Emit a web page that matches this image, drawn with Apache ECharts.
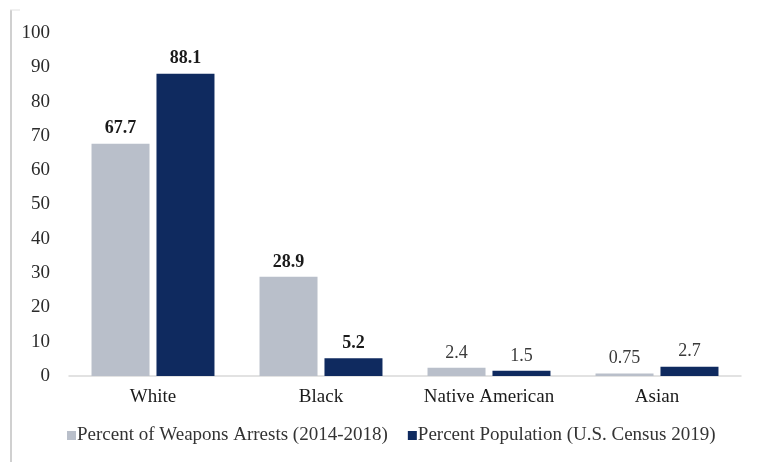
<!DOCTYPE html>
<html>
<head>
<meta charset="utf-8">
<script src="https://cdn.jsdelivr.net/npm/echarts@6/dist/echarts.min.js"></script>
<style>html,body{margin:0;padding:0;background:#fff}#c{width:763px;height:462px}</style>
</head>
<body>
<div id="c"></div>
<script>
const categories = ['White', 'Black', 'Native American', 'Asian'];
const arrests = [67.7, 28.9, 2.4, 0.75];
const population = [88.1, 5.2, 1.5, 2.7];
const arrestsName = 'Percent of Weapons Arrests (2014-2018)';
const populationName = 'Percent Population (U.S. Census 2019)';
const yTicks = { min: 0, max: 100, interval: 10 };

const FONT = '"Liberation Serif", "Times New Roman", serif';
const boldLabel = { fontWeight: 'bold', color: '#1a1a1a' };
const lightLabel = { fontWeight: 'normal', color: '#3a3a3a' };
function withLabels(arr) {
  return arr.map((v, i) => ({ value: v, label: i < 2 ? boldLabel : lightLabel }));
}
const chart = echarts.init(document.getElementById('c'), null, { renderer: 'canvas' });
chart.setOption({
  animation: false,
  textStyle: { fontFamily: FONT },
  graphic: [{
    type: 'line', shape: { x1: 11, y1: 10, x2: 11, y2: 462 },
    style: { stroke: '#d0d0d0', lineWidth: 2 }
  }, {
    type: 'line', shape: { x1: 10, y1: 10, x2: 20, y2: 10 },
    style: { stroke: '#e0e0e0', lineWidth: 1 }
  }],
  grid: { left: 69, right: 22, top: 33, bottom: 86 },
  legend: {
    bottom: 12, left: 62, itemWidth: 9, itemHeight: 9, itemGap: 20,
    icon: 'rect',
    textStyle: { fontFamily: FONT, fontSize: 19, color: '#333', padding: [0, 0, 0, -4] },
    data: [arrestsName, populationName]
  },
  xAxis: {
    type: 'category', data: categories,
    axisLine: { lineStyle: { color: '#d9d9d9', width: 1.5 } },
    axisTick: { show: false },
    axisLabel: { interval: 0, fontFamily: FONT, fontSize: 19, color: '#1a1a1a', margin: 12 }
  },
  yAxis: {
    type: 'value', min: yTicks.min, max: yTicks.max, interval: yTicks.interval,
    axisLine: { show: false }, axisTick: { show: false },
    splitLine: { show: false },
    axisLabel: { fontFamily: FONT, fontSize: 19, color: '#2b2b2b', margin: 19 }
  },
  series: [{
    name: arrestsName, type: 'bar', data: withLabels(arrests),
    barWidth: 58, barGap: '12%',
    itemStyle: { color: '#b9bfca' },
    label: { show: true, position: 'top', distance: 6, fontFamily: FONT, fontSize: 18 }
  }, {
    name: populationName, type: 'bar', data: withLabels(population),
    barWidth: 58,
    itemStyle: { color: '#0f2a5f' },
    label: { show: true, position: 'top', distance: 6, fontFamily: FONT, fontSize: 18 }
  }]
});
</script>
</body>
</html>
